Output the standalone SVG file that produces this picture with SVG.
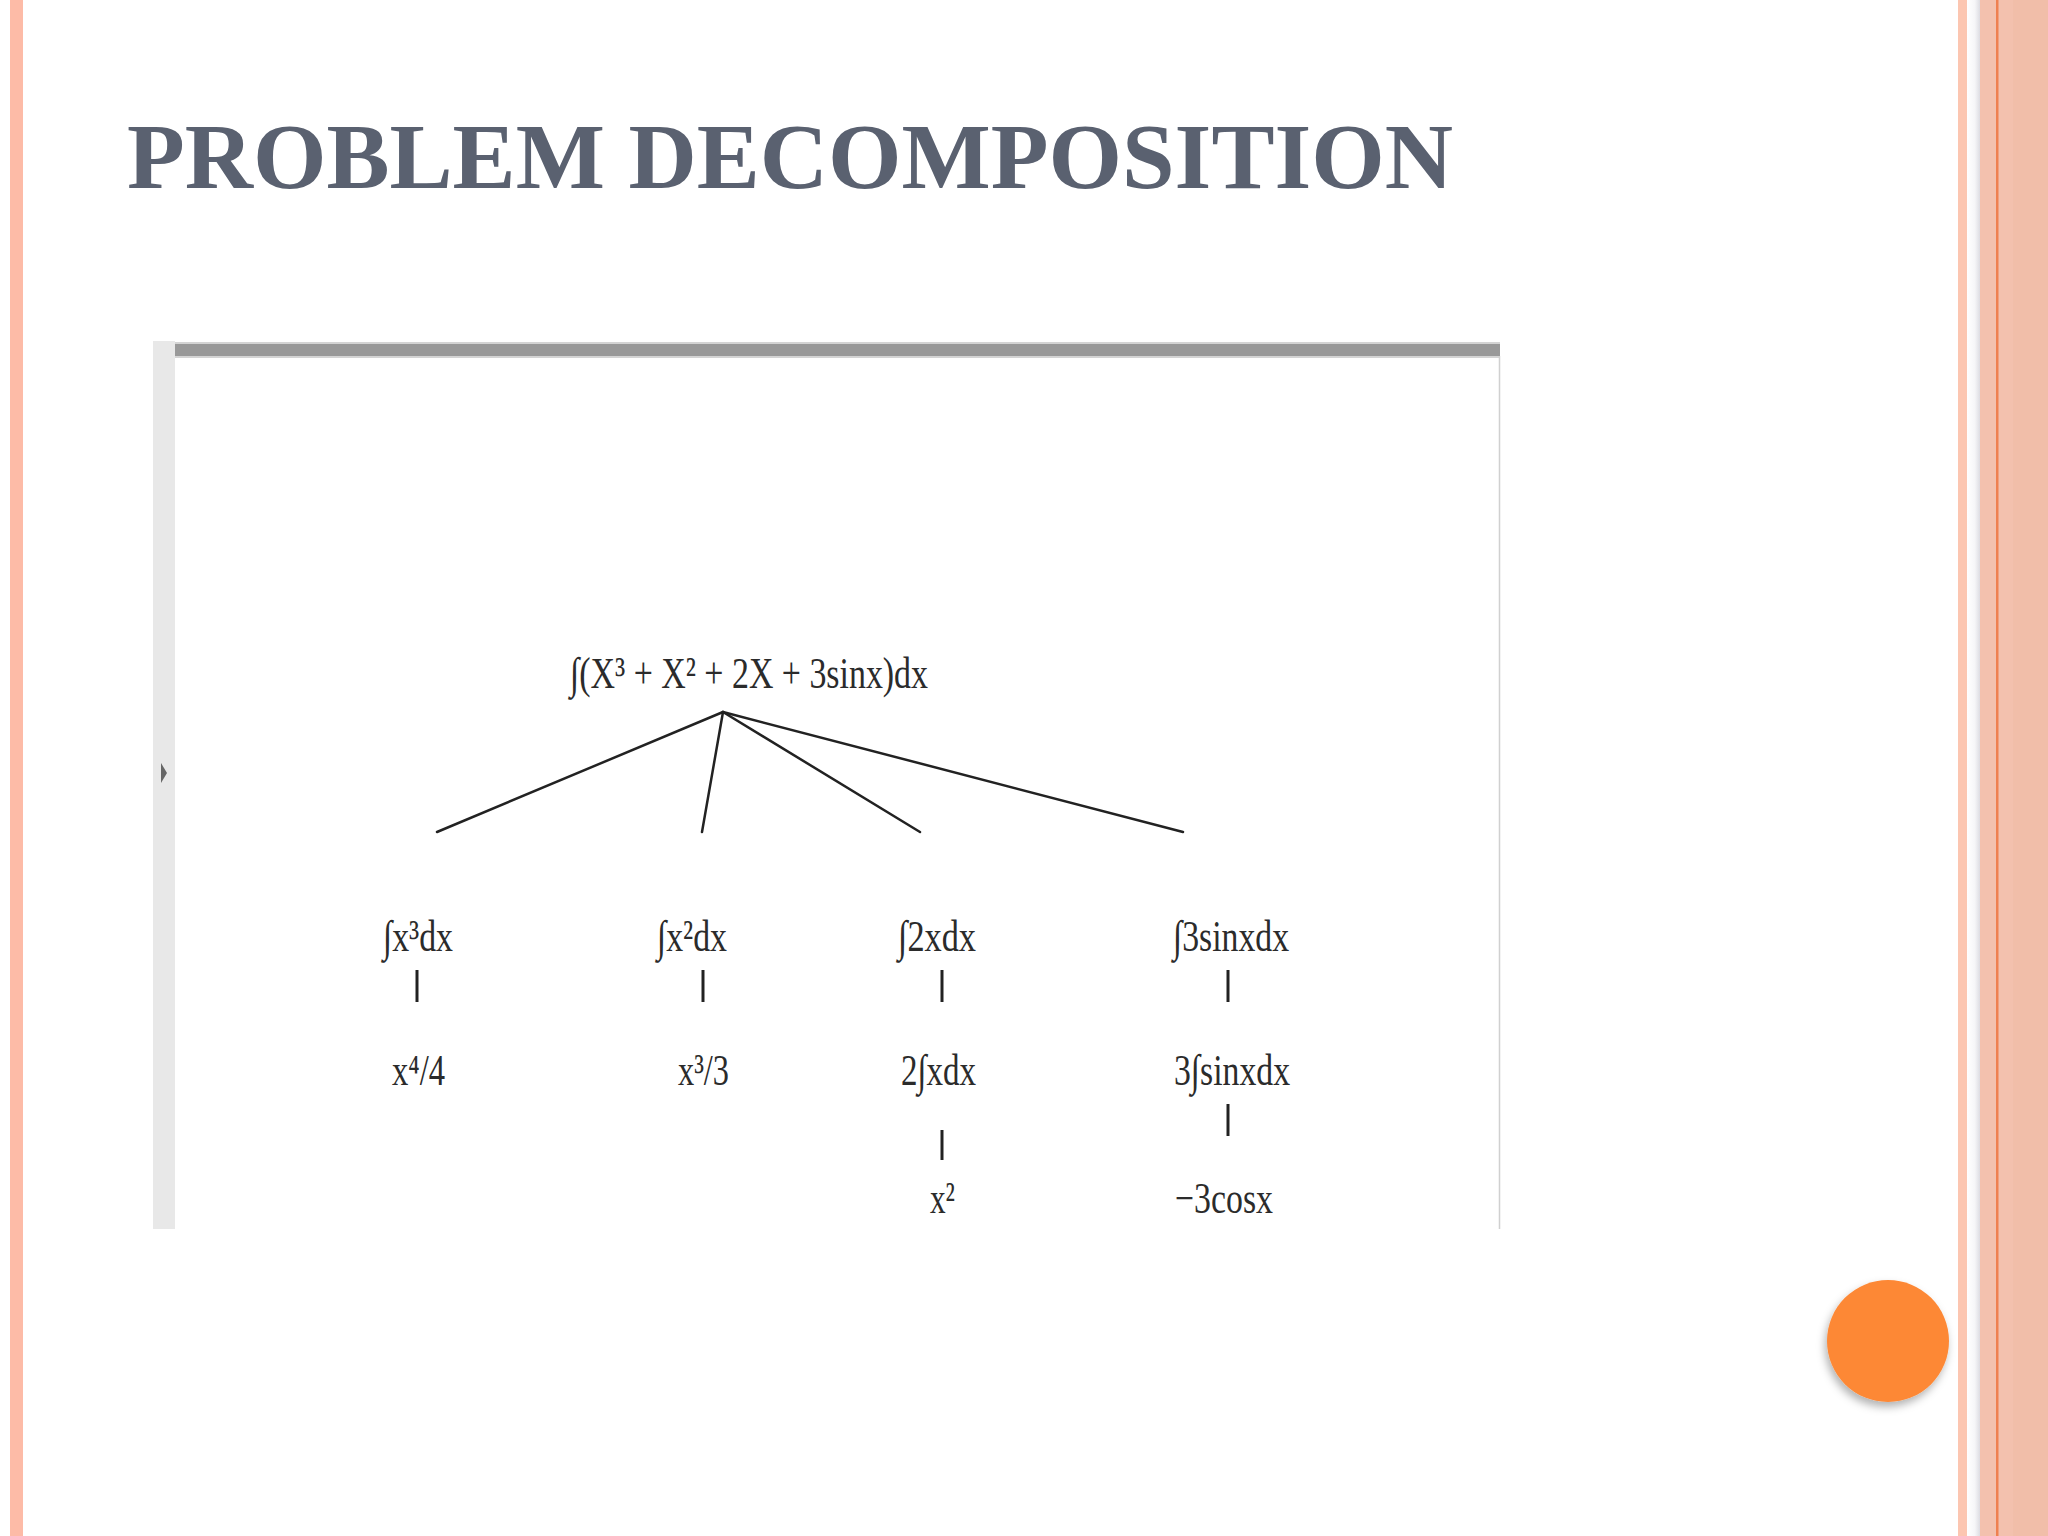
<svg xmlns="http://www.w3.org/2000/svg" width="2048" height="1536" viewBox="0 0 2048 1536">
<style>
.t{font-family:"Liberation Serif","Times New Roman","DejaVu Serif",serif;font-size:44px;fill:#2b2b2b}
.edge{stroke:#222;stroke-width:2.5;fill:none;stroke-linecap:round}
.tick{stroke:#222;stroke-width:3;fill:none}
</style>
<defs>
<filter id="sh" x="-30%" y="-30%" width="160%" height="160%">
<feDropShadow dx="-2" dy="5" stdDeviation="4" flood-color="#000" flood-opacity="0.3"/>
</filter>
<linearGradient id="gap" x1="0" x2="1" y1="0" y2="0">
<stop offset="0" stop-color="#ffffff"/>
<stop offset="0.6" stop-color="#f6f6f8"/>
<stop offset="1" stop-color="#dcdce2"/>
</linearGradient>
</defs>
<rect width="2048" height="1536" fill="#ffffff"/>
<!-- left border -->
<rect x="10" y="0" width="13" height="1536" fill="#fdbba7"/>
<!-- right border -->
<rect x="1958" y="0" width="9" height="1536" fill="#fcc6b1"/>
<rect x="1967" y="0" width="13" height="1536" fill="url(#gap)"/>
<rect x="1980" y="0" width="68" height="1536" fill="#f3c1ae"/>
<rect x="2013" y="0" width="35" height="1536" fill="#f1bea9"/>
<rect x="1996" y="0" width="2.5" height="1536" fill="#ef8050"/>
<!-- title -->
<text id="title" x="127" y="188" font-family="'Liberation Serif','Times New Roman',serif" font-weight="bold" font-size="94" fill="#5a6170" textLength="1326" lengthAdjust="spacingAndGlyphs">PROBLEM DECOMPOSITION</text>
<!-- image frame -->
<g id="frame">
<rect x="153" y="341" width="22" height="888" fill="#e8e8e8"/>
<rect x="175" y="342" width="1325" height="16" fill="#d4d4d4"/>
<rect x="175" y="344" width="1325" height="12" fill="#999999"/>
<line x1="1499.5" y1="356" x2="1499.5" y2="1229" stroke="#d0d0d0" stroke-width="1.5"/>
<polygon points="161,763 167,773 161,783" fill="#666666"/>
</g>
<!-- connectors -->
<g id="connectors">
<line class="edge" x1="723" y1="712" x2="437" y2="832"/>
<line class="edge" x1="723" y1="712" x2="702" y2="832"/>
<line class="edge" x1="723" y1="712" x2="920" y2="832"/>
<line class="edge" x1="723" y1="712" x2="1183" y2="832"/>
<line class="tick" x1="417" y1="970" x2="417" y2="1002"/>
<line class="tick" x1="703" y1="970" x2="703" y2="1002"/>
<line class="tick" x1="942" y1="970" x2="942" y2="1002"/>
<line class="tick" x1="1228" y1="970" x2="1228" y2="1002"/>
<line class="tick" x1="942" y1="1130" x2="942" y2="1160"/>
<line class="tick" x1="1228" y1="1104" x2="1228" y2="1136"/>
</g>
<!-- nodes -->
<g id="root"><text class="t" x="570" y="688" textLength="358" lengthAdjust="spacingAndGlyphs">∫(X³ + X² + 2X  + 3sinx)dx</text></g>
<g id="n1"><text class="t" x="383" y="951" textLength="70" lengthAdjust="spacingAndGlyphs">∫x³dx</text></g>
<g id="n1a"><text class="t" x="392" y="1085" textLength="53" lengthAdjust="spacingAndGlyphs">x⁴/4</text></g>
<g id="n2"><text class="t" x="657" y="951" textLength="70" lengthAdjust="spacingAndGlyphs">∫x²dx</text></g>
<g id="n2a"><text class="t" x="678" y="1085" textLength="51" lengthAdjust="spacingAndGlyphs">x³/3</text></g>
<g id="n3"><text class="t" x="898" y="951" textLength="78" lengthAdjust="spacingAndGlyphs">∫2xdx</text></g>
<g id="n3a"><text class="t" x="901" y="1085" textLength="75" lengthAdjust="spacingAndGlyphs">2∫xdx</text></g>
<g id="n3b"><text class="t" x="930" y="1213" textLength="25" lengthAdjust="spacingAndGlyphs">x²</text></g>
<g id="n4"><text class="t" x="1173" y="951" textLength="116" lengthAdjust="spacingAndGlyphs">∫3sinxdx</text></g>
<g id="n4a"><text class="t" x="1174" y="1085" textLength="116" lengthAdjust="spacingAndGlyphs">3∫sinxdx</text></g>
<g id="n4b"><text class="t" x="1175" y="1213" textLength="98" lengthAdjust="spacingAndGlyphs">−3cosx</text></g>
<!-- orange circle -->
<circle id="dot" cx="1888" cy="1341" r="61" fill="#fd8836" filter="url(#sh)"/>
</svg>
